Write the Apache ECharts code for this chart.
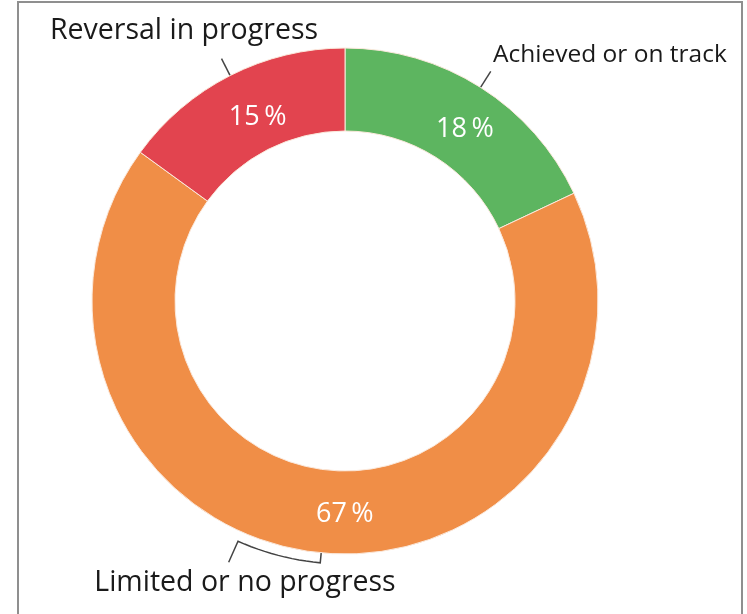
<!DOCTYPE html>
<html lang="en">
<head>
<meta charset="UTF-8" />
<title>Progress status</title>
<style>
  html, body { margin: 0; padding: 0; background: #fff; overflow: hidden; }
  #chart { width: 747px; height: 614px; }
  .frame {
    position: absolute; left: 17px; top: 1px;
    width: 722px; height: 660px;
    border: 2px solid #8f8f8f;
    pointer-events: none;
  }
</style>
</head>
<body>
<div id="chart"></div>
<div class="frame"></div>

<script src="https://cdn.jsdelivr.net/npm/echarts@6/dist/echarts.min.js"></script>
<script>
  // data
  const categories = ['Achieved or on track', 'Limited or no progress', 'Reversal in progress'];
  const shares = [18, 67, 15];
  const colors = ['#5db560', '#f08e47', '#e2444f'];
  const nameSizes = [24.5, 28.5, 28.5];

  const FONT = "'Open Sans', 'Noto Sans', sans-serif";
  const center = [345, 301];
  const radius = [170, 253];

  const chart = echarts.init(document.getElementById('chart'), null, { renderer: 'canvas' });

  // small nudges of the percentage labels inside the ring
  const pctShift = [[5, 9], [20, 0], [10, 7]];
  // where the category names sit (outside the ring)
  const namePos = [
    { x: 493, y: 55, align: 'left' },
    { x: 245, y: 583, align: 'center' },
    { x: 184, y: 31, align: 'center' }
  ];

  // bracket under the big slice: tick at the slice middle, arc along the ring, then a tail
  function bracket(start) {
    const ang0 = Math.atan2(start[1] - center[1], start[0] - center[0]);
    const r1 = radius[1] + 10;
    const span = 18.6 * Math.PI / 180;
    const pts = [[start[0], start[1]]];
    for (let k = 0; k <= 12; k++) {
      const a = ang0 + span * k / 12;
      pts.push([center[0] + r1 * Math.cos(a), center[1] + r1 * Math.sin(a)]);
    }
    const aEnd = ang0 + span;
    const r2 = radius[1] + 33;
    pts.push([center[0] + r2 * Math.cos(aEnd), center[1] + r2 * Math.sin(aEnd)]);
    return pts;
  }

  const option = {
    backgroundColor: '#fff',
    animation: false,
    series: [
      {
        type: 'pie',
        center: center,
        radius: radius,
        startAngle: 90,
        clockwise: true,
        silent: true,
        itemStyle: { borderColor: '#fbe9dc', borderWidth: 1 },
        label: {
          show: true,
          position: 'inside',
          color: '#fff',
          fontSize: 27,
          fontFamily: FONT,
          formatter: p => p.value + '\u2009%'
        },
        labelLine: { show: false },
        labelLayout: p => ({ dx: pctShift[p.dataIndex][0], dy: pctShift[p.dataIndex][1] }),
        data: categories.map((name, i) => ({
          name: name,
          value: shares[i],
          itemStyle: { color: colors[i] }
        }))
      },
      {
        type: 'pie',
        center: center,
        radius: radius,
        startAngle: 90,
        clockwise: true,
        silent: true,
        itemStyle: { color: 'rgba(0,0,0,0)', borderWidth: 0 },
        label: {
          show: true,
          position: 'outside',
          color: '#1a1a1a',
          fontFamily: FONT,
          width: 420,
          formatter: '{b}'
        },
        labelLine: {
          show: true,
          length: 19,
          length2: 0,
          lineStyle: { color: '#444', width: 1.5 }
        },
        labelLayout: p => {
          const pos = namePos[p.dataIndex];
          const pts = p.labelLinePoints;
          const line = p.dataIndex === 1 ? bracket(pts[0]) : pts;
          return {
            x: pos.x,
            y: pos.y,
            align: pos.align,
            verticalAlign: 'middle',
            labelLinePoints: line
          };
        },
        data: categories.map((name, i) => ({
          name: name,
          value: shares[i],
          label: { fontSize: nameSizes[i] }
        }))
      }
    ]
  };

  chart.setOption(option);
</script>
</body>
</html>
